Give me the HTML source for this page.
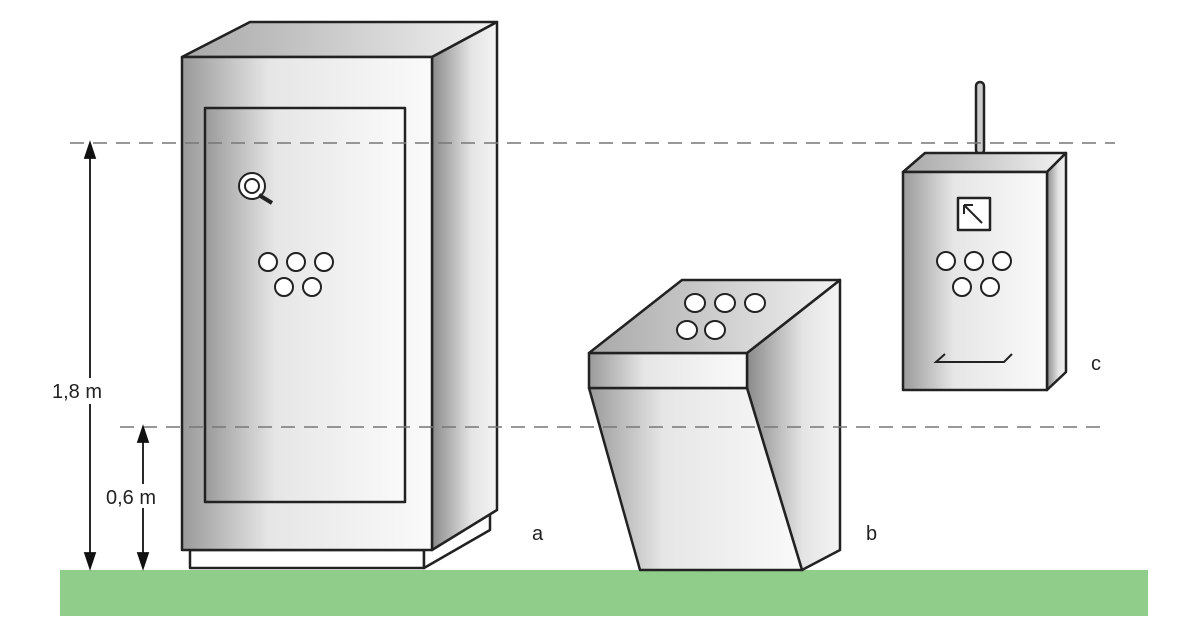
<!DOCTYPE html>
<html><head><style>body{margin:0;background:#fff}svg{display:block}</style></head><body>
<svg width="1177" height="628" viewBox="0 0 1177 628" xmlns="http://www.w3.org/2000/svg" font-family="Liberation Sans, sans-serif">
<defs>
<linearGradient id="f" x1="0" x2="1" y1="0" y2="0"><stop offset="0" stop-color="#9a9a9a"/><stop offset="0.35" stop-color="#e6e6e6"/><stop offset="1" stop-color="#fafafa"/></linearGradient>
<linearGradient id="s" x1="0" x2="1" y1="0" y2="0"><stop offset="0" stop-color="#8a8a8a"/><stop offset="0.6" stop-color="#e4e4e4"/><stop offset="1" stop-color="#f4f4f4"/></linearGradient>
<linearGradient id="t" x1="0" x2="1" y1="0" y2="0"><stop offset="0" stop-color="#a8a8a8"/><stop offset="1" stop-color="#f2f2f2"/></linearGradient>
</defs>
<rect x="60" y="570" width="1088" height="46" fill="#90cc8a"/>
<g stroke="#222" stroke-width="2.5" stroke-linejoin="round">
<!-- cabinet a -->
<rect x="190" y="550" width="234" height="18" fill="#fff"/>
<polygon points="424,568 490,530 490,510 424,550" fill="#fff"/>
<polygon points="182,57 250,22 497,22 432,57" fill="url(#t)"/>
<polygon points="432,57 497,22 497,510 432,550" fill="url(#s)"/>
<rect x="182" y="57" width="250" height="493" fill="url(#f)"/>
<rect x="205" y="108" width="200" height="394" fill="url(#f)"/>
<!-- b -->
<polygon points="747,353 840,280 840,550 802,570 747,388" fill="url(#s)"/>
<polygon points="589,388 747,388 802,570 640,570" fill="url(#f)"/>
<rect x="589" y="353" width="158" height="35" fill="url(#f)"/>
<polygon points="589,353 682,280 840,280 747,353" fill="url(#t)"/>
<!-- c -->
<rect x="976" y="82" width="8" height="72" rx="4" fill="#ccc"/>
<polygon points="903,172 925,153 1066,153 1047,172" fill="url(#t)"/>
<polygon points="1047,172 1066,153 1066,372 1047,390" fill="url(#s)"/>
<rect x="903" y="172" width="144" height="218" fill="url(#f)"/>
<rect x="958" y="198" width="32" height="32" fill="#fff"/>
</g>
<g stroke="#222" stroke-width="2" fill="#fff">
<circle cx="268" cy="262" r="9"/><circle cx="296" cy="262" r="9"/><circle cx="324" cy="262" r="9"/>
<circle cx="284" cy="287" r="9"/><circle cx="312" cy="287" r="9"/>
<circle cx="252" cy="186" r="13"/><circle cx="252" cy="186" r="7"/>
<path d="M259 195 L272 203" stroke-width="4"/>
<ellipse cx="695" cy="303" rx="10" ry="9"/><ellipse cx="725" cy="303" rx="10" ry="9"/><ellipse cx="755" cy="303" rx="10" ry="9"/>
<ellipse cx="687" cy="330" rx="10" ry="9"/><ellipse cx="715" cy="330" rx="10" ry="9"/>
<circle cx="946" cy="261" r="9"/><circle cx="974" cy="261" r="9"/><circle cx="1002" cy="261" r="9"/>
<circle cx="962" cy="287" r="9"/><circle cx="990" cy="287" r="9"/>
<path d="M964 205 L982 223 M964 205 L964 214 M964 205 L973 205" fill="none"/>
<path d="M945 354 L936 362 L1004 362 L1012 354" fill="none"/>
</g>
<g stroke="#777" stroke-width="1.5" stroke-dasharray="14,9">
<line x1="70" y1="143" x2="1115" y2="143"/>
<line x1="120" y1="427" x2="1100" y2="427"/>
</g>
<g stroke="#111" stroke-width="1.8" fill="#111">
<line x1="90" y1="150" x2="90" y2="560"/>
<polygon points="90,143 85,158 95,158"/><polygon points="90,568 85,553 95,553"/>
<line x1="143" y1="434" x2="143" y2="560"/>
<polygon points="143,427 138,442 148,442"/><polygon points="143,568 138,553 148,553"/>
</g>
<g font-size="20" fill="#222">
<rect x="48" y="378" width="86" height="26" fill="#fff"/>
<text x="52" y="398">1,8  m</text>
<rect x="104" y="484" width="72" height="24" fill="#fff"/>
<text x="106" y="504">0,6 m</text>
<text x="532" y="540">a</text>
<text x="866" y="540">b</text>
<text x="1091" y="370">c</text>
</g>
</svg>
</body></html>
